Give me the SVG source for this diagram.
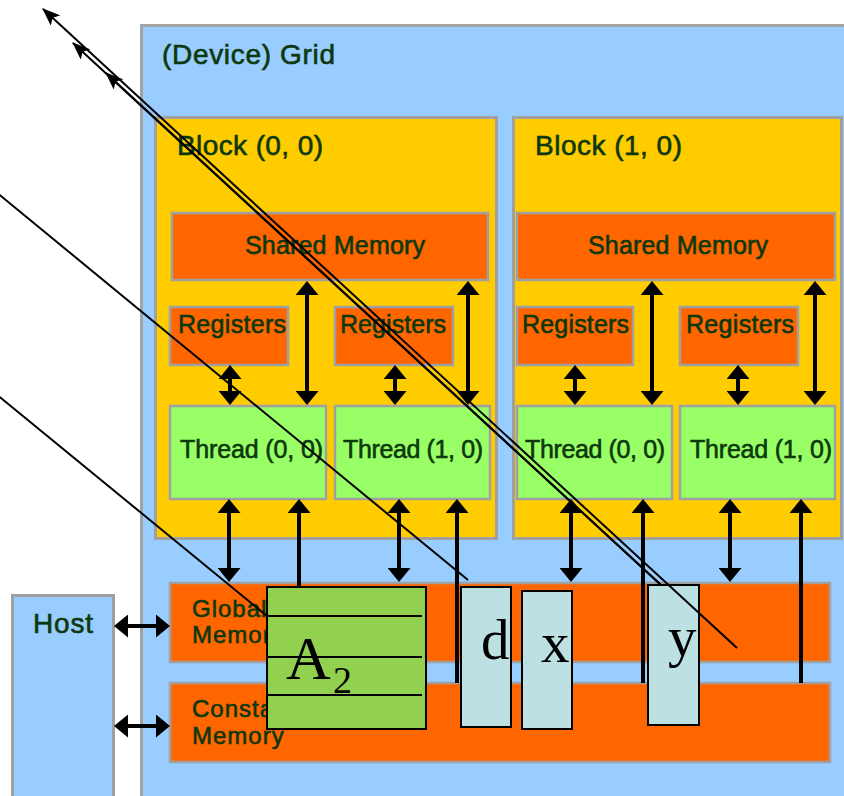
<svg xmlns="http://www.w3.org/2000/svg" width="844" height="796" viewBox="0 0 844 796">
  <defs>
    <style>
      .grid{fill:#99CCFF;stroke:#a3a3a3;stroke-width:3}
      .block{fill:#FFCC00;stroke:#a0a0a0;stroke-width:3}
      .mem{fill:#FF6600;stroke:#a0a0a0;stroke-width:2.5}
      .thread{fill:#99FF66;stroke:#a0a0a0;stroke-width:2.5}
      .host{fill:#99CCFF;stroke:#a0a0a0;stroke-width:3}
      .lbl{font-family:"Liberation Sans",Arial,sans-serif;fill:#0d380d;stroke:#0d380d;stroke-width:0.6}
      .wire{stroke:#000;stroke-width:4;fill:none}
      .thin{stroke:#000;stroke-width:2;fill:none}
      .mat{fill:#92D050;stroke:#000;stroke-width:2}
      .vec{fill:#BDE0E3;stroke:#000;stroke-width:2}
      .row{stroke:#000;stroke-width:2}
      .sym{font-family:"Liberation Serif","Times New Roman",serif;fill:#000}
    </style>
    <marker id="head" viewBox="0 0 14 23" refX="6" refY="11.5" markerWidth="14" markerHeight="23" markerUnits="userSpaceOnUse" orient="auto-start-reverse">
      <path d="M0,0 L14,11.5 L0,23 Z" fill="#000"/>
    </marker>
    <marker id="tip" viewBox="0 0 18 14" refX="17" refY="7" markerWidth="18" markerHeight="14" markerUnits="userSpaceOnUse" orient="auto">
      <path d="M0,0 L18,7 L0,14 L4,7 Z" fill="#000"/>
    </marker>
  </defs>

  <rect width="844" height="796" fill="#fff"/>

  <!-- device grid -->
  <g id="grid">
    <rect class="grid" x="141.5" y="25.5" width="720" height="790"/>
    <text class="lbl" x="162" y="64" font-size="28" textLength="173">(Device) Grid</text>
  </g>

  <!-- block (0, 0) -->
  <g id="block-0-0">
    <rect class="block" x="155.5" y="117.5" width="341" height="421"/>
    <text class="lbl" x="177" y="155" font-size="28" textLength="146">Block (0, 0)</text>
  </g>
  <g id="shared-0">
    <rect class="mem" x="172" y="213" width="316" height="67"/>
    <text class="lbl" x="245" y="254" font-size="25" textLength="180">Shared Memory</text>
  </g>
  <g id="regs-0-0">
    <rect class="mem" x="170" y="307" width="118" height="58"/>
    <text class="lbl" x="178" y="333" font-size="25" textLength="108">Registers</text>
  </g>
  <g id="regs-0-1">
    <rect class="mem" x="335" y="307" width="118" height="58"/>
    <text class="lbl" x="340" y="333" font-size="25" textLength="106">Registers</text>
  </g>
  <g id="thread-0-0">
    <rect class="thread" x="170" y="406" width="156" height="93"/>
    <text class="lbl" x="180" y="458" font-size="25" textLength="143">Thread (0, 0)</text>
  </g>
  <g id="thread-0-1">
    <rect class="thread" x="335" y="406" width="155" height="93"/>
    <text class="lbl" x="343" y="458" font-size="25" textLength="140">Thread (1, 0)</text>
  </g>

  <!-- block (1, 0) -->
  <g id="block-1-0">
    <rect class="block" x="513.5" y="117.5" width="328" height="421"/>
    <text class="lbl" x="535" y="155" font-size="28" textLength="147">Block (1, 0)</text>
  </g>
  <g id="shared-1">
    <rect class="mem" x="517" y="213" width="318" height="67"/>
    <text class="lbl" x="588" y="254" font-size="25" textLength="180">Shared Memory</text>
  </g>
  <g id="regs-1-0">
    <rect class="mem" x="517" y="307" width="116" height="58"/>
    <text class="lbl" x="522" y="333" font-size="25" textLength="107">Registers</text>
  </g>
  <g id="regs-1-1">
    <rect class="mem" x="680" y="307" width="118" height="58"/>
    <text class="lbl" x="686" y="333" font-size="25" textLength="108">Registers</text>
  </g>
  <g id="thread-1-0">
    <rect class="thread" x="517" y="406" width="155" height="93"/>
    <text class="lbl" x="525" y="458" font-size="25" textLength="140">Thread (0, 0)</text>
  </g>
  <g id="thread-1-1">
    <rect class="thread" x="680" y="406" width="155" height="93"/>
    <text class="lbl" x="690" y="458" font-size="25" textLength="142">Thread (1, 0)</text>
  </g>

  <!-- device-wide memories -->
  <g id="global-memory">
    <rect class="mem" x="170" y="583" width="660" height="79"/>
    <text class="lbl" x="192" y="617" font-size="24" letter-spacing="1">Global</text>
    <text class="lbl" x="192" y="643" font-size="24" letter-spacing="1">Memory</text>
  </g>
  <g id="constant-memory">
    <rect class="mem" x="170" y="683" width="660" height="79"/>
    <text class="lbl" x="192" y="717" font-size="24" letter-spacing="1">Constant</text>
    <text class="lbl" x="192" y="744" font-size="24" letter-spacing="1">Memory</text>
  </g>

  <!-- host -->
  <g id="host">
    <rect class="host" x="12.5" y="595.5" width="101" height="220"/>
    <text class="lbl" x="33" y="633" font-size="28" textLength="60">Host</text>
  </g>

  <!-- memory access paths -->
  <g id="connectors">
    <!-- registers <-> thread -->
    <line class="wire" x1="230" y1="373" x2="230" y2="397" marker-start="url(#head)" marker-end="url(#head)"/>
    <line class="wire" x1="395" y1="373" x2="395" y2="397" marker-start="url(#head)" marker-end="url(#head)"/>
    <line class="wire" x1="575" y1="373" x2="575" y2="397" marker-start="url(#head)" marker-end="url(#head)"/>
    <line class="wire" x1="738" y1="373" x2="738" y2="397" marker-start="url(#head)" marker-end="url(#head)"/>
    <!-- shared memory <-> thread -->
    <line class="wire" x1="307" y1="289" x2="307" y2="397" marker-start="url(#head)" marker-end="url(#head)"/>
    <line class="wire" x1="468" y1="289" x2="468" y2="397" marker-start="url(#head)" marker-end="url(#head)"/>
    <line class="wire" x1="652" y1="289" x2="652" y2="397" marker-start="url(#head)" marker-end="url(#head)"/>
    <line class="wire" x1="815" y1="289" x2="815" y2="397" marker-start="url(#head)" marker-end="url(#head)"/>
    <!-- thread <-> global memory -->
    <line class="wire" x1="229" y1="507" x2="229" y2="574" marker-start="url(#head)" marker-end="url(#head)"/>
    <line class="wire" x1="399" y1="507" x2="399" y2="574" marker-start="url(#head)" marker-end="url(#head)"/>
    <line class="wire" x1="571" y1="507" x2="571" y2="574" marker-start="url(#head)" marker-end="url(#head)"/>
    <line class="wire" x1="730" y1="507" x2="730" y2="574" marker-start="url(#head)" marker-end="url(#head)"/>
    <!-- constant memory -> thread -->
    <line class="wire" x1="299" y1="683" x2="299" y2="507" marker-end="url(#head)"/>
    <line class="wire" x1="457" y1="683" x2="457" y2="507" marker-end="url(#head)"/>
    <line class="wire" x1="643" y1="683" x2="643" y2="507" marker-end="url(#head)"/>
    <line class="wire" x1="801" y1="683" x2="801" y2="507" marker-end="url(#head)"/>
    <!-- host <-> device memories -->
    <line class="wire" x1="122" y1="626" x2="162" y2="626" marker-start="url(#head)" marker-end="url(#head)"/>
    <line class="wire" x1="122" y1="726" x2="162" y2="726" marker-start="url(#head)" marker-end="url(#head)"/>
  </g>

  <!-- operands placed in memory -->
  <g id="matrix-a2">
    <rect class="mat" x="267" y="587" width="159" height="142"/>
    <line class="row" x1="267" y1="616" x2="422" y2="616"/>
    <line class="row" x1="267" y1="657" x2="422" y2="657"/>
    <line class="row" x1="267" y1="695" x2="422" y2="695"/>
    <text class="sym" x="286" y="679" font-size="62">A<tspan x="333" y="693" font-size="38">2</tspan></text>
  </g>
  <g id="vector-d">
    <rect class="vec" x="461" y="587" width="50" height="140"/>
    <text class="sym" x="481" y="659" font-size="57">d</text>
  </g>
  <g id="vector-x">
    <rect class="vec" x="522" y="591" width="50" height="138"/>
    <text class="sym" x="541" y="662" font-size="57">x</text>
  </g>
  <g id="vector-y">
    <rect class="vec" x="648" y="585" width="51" height="140"/>
    <text class="sym" x="668" y="656" font-size="57">y</text>
  </g>

  <!-- pointer lines -->
  <g id="pointers">
    <line class="thin" x1="-10" y1="187" x2="468" y2="580"/>
    <line class="thin" x1="-10" y1="389" x2="267" y2="616"/>
    <line class="thin" x1="737" y1="648" x2="43" y2="9" marker-end="url(#tip)"/>
    <line class="thin" x1="661" y1="585" x2="73" y2="43" marker-end="url(#tip)"/>
    <line class="thin" x1="661" y1="585" x2="106" y2="73" marker-end="url(#tip)"/>
  </g>
</svg>
